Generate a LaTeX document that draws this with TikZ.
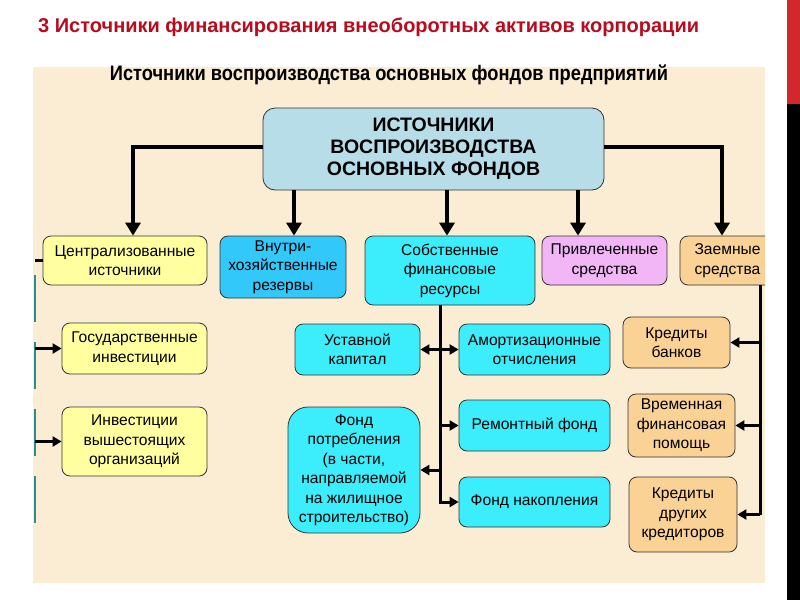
\documentclass[tikz,border=0pt]{standalone}
\usepackage{fontspec}
\setmainfont{Liberation Sans}
\newfontfamily\narrowfont[FakeStretch=0.87]{Liberation Sans}
\usetikzlibrary{arrows.meta}
\definecolor{titlered}{RGB}{185,10,30}
\definecolor{barred}{RGB}{210,40,45}
\definecolor{panelbg}{RGB}{250,237,212}
\definecolor{mainfill}{RGB}{183,222,232}
\definecolor{cyanfill}{RGB}{60,238,252}
\definecolor{bluefill}{RGB}{51,200,250}
\definecolor{yellowfill}{RGB}{255,255,160}
\definecolor{violetfill}{RGB}{242,182,246}
\definecolor{orangefill}{RGB}{250,210,150}
\definecolor{tealline}{RGB}{51,140,140}
\tikzset{
  box/.style={draw=black!80, line width=0.8pt, rounded corners=8pt, align=center,
    inner sep=0pt, font=\fontsize{15.6}{19.5}\selectfont},
  bigarrow/.style={line width=4pt, -{Triangle[length=13pt,width=15pt]}},
  bigline/.style={line width=4pt},
  midarrow/.style={line width=3pt, -{Triangle[length=9pt,width=10pt]}},
  dblarrow/.style={line width=3pt, {Triangle[length=9pt,width=10pt]}-{Triangle[length=9pt,width=10pt]}},
  midline/.style={line width=3pt},
}
\begin{document}
\begin{tikzpicture}[x=1pt,y=-1pt]
\useasboundingbox (0,0) rectangle (800,600);
\fill[white] (0,0) rectangle (800,600);
\fill[barred] (787,0) rectangle (800,104);
\fill[black] (787,104) rectangle (800,600);
\fill[panelbg] (33,67) rectangle (765,583);
\node[anchor=west, text=titlered, inner sep=0pt] (title) at (38,27)
  {\bfseries\fontsize{20}{24}\selectfont 3 Источники финансирования внеоборотных активов корпорации};
\node[inner sep=0pt] (subtitle) at (389,75)
  {\narrowfont\bfseries\fontsize{21}{25}\selectfont Источники воспроизводства основных фондов предприятий};
% main
\node[box, fill=mainfill, rounded corners=12pt, minimum width=341pt, minimum height=82pt,
  font=\bfseries\fontsize{19.5}{22}\selectfont] (main) at (433.5,149)
  {ИСТОЧНИКИ\\ВОСПРОИЗВОДСТВА\\ОСНОВНЫХ ФОНДОВ};
% row 2
\node[box, fill=yellowfill, minimum width=164pt, minimum height=49pt] (cent) at (125,260.5) {Централизованные\\источники};
\node[box, fill=bluefill, minimum width=126pt, minimum height=62pt] (vnut) at (283,267) {Внутри-\\хозяйственные\\резервы};
\node[box, fill=cyanfill, minimum width=170pt, minimum height=69pt] (sobst) at (450,270.5) {Собственные\\финансовые\\ресурсы};
\node[box, fill=violetfill, minimum width=125pt, minimum height=49pt] (privl) at (604.5,260.5) {Привлеченные\\средства};
\begin{scope}
\clip (0,0) rectangle (765,600);
\node[box, fill=orangefill, minimum width=95pt, minimum height=49pt] (zaem) at (727.5,260.5) {Заемные\\средства};
\end{scope}
% left column
\node[box, fill=yellowfill, minimum width=145pt, minimum height=51pt] (gos) at (134.5,348.5) {Государственные\\инвестиции};
\node[box, fill=yellowfill, minimum width=145pt, minimum height=69pt] (inv) at (134.5,441.5) {Инвестиции\\вышестоящих\\организаций};
% middle
\node[box, fill=cyanfill, minimum width=125pt, minimum height=51pt] (ustav) at (357.5,349.5) {Уставной\\капитал};
\node[box, fill=cyanfill, rounded corners=20pt, minimum width=132pt, minimum height=126pt] (fondp) at (354,470)
  {Фонд\\потребления\\(в части,\\направляемой\\на жилищное\\строительство)};
\node[box, fill=cyanfill, minimum width=151pt, minimum height=51pt] (amort) at (534.5,349.5) {Амортизационные\\отчисления};
\node[box, fill=cyanfill, minimum width=151pt, minimum height=51pt] (remont) at (534.5,425.5) {Ремонтный фонд};
\node[box, fill=cyanfill, minimum width=151pt, minimum height=50pt] (nakop) at (534.5,502) {Фонд накопления};
% right
\node[box, fill=orangefill, minimum width=107pt, minimum height=51pt] (kredb) at (676.5,342.5) {Кредиты\\банков};
\node[box, fill=orangefill, minimum width=107pt, minimum height=63pt] (vrem) at (681.5,425.5) {Временная\\финансовая\\помощь};
\node[box, fill=orangefill, minimum width=108pt, minimum height=75pt] (kredd) at (683,514.5) {Кредиты\\других\\кредиторов};
% top connectors
\coordinate (a1) at (133,0);
\coordinate (a2) at (294,0);
\coordinate (a3) at (447,0);
\coordinate (a4) at (578,0);
\coordinate (a5) at (722,0);
\coordinate (hl) at (0,147);
\draw[bigarrow] (main.west |- hl) -| (cent.north -| a1);
\draw[bigarrow] (main.south -| a2) -- (vnut.north -| a2);
\draw[bigarrow] (main.south -| a3) -- (sobst.north -| a3);
\draw[bigarrow] (main.south -| a4) -- (privl.north -| a4);
\draw[bigarrow] (main.east |- hl) -| (zaem.north -| a5);
% sobst connectors
\coordinate (s1) at (440,0);
\draw[midarrow] (sobst.south -| s1) |- (nakop.west);
\draw[dblarrow] (ustav.east) -- (amort.west);
\draw[midarrow] (s1 |- remont.west) -- (remont.west);
\draw[midarrow] (s1 |- fondp.east) -- (fondp.east);
% zaem connectors
\coordinate (z1) at (760,0);
\draw[midline] (zaem.south -| z1) -- (z1 |- kredd.east);
\draw[midarrow] (z1 |- kredb.east) -- (kredb.east);
\draw[midarrow] (z1 |- vrem.east) -- (vrem.east);
\draw[midarrow] (z1 |- kredd.east) -- (kredd.east);
% left connectors
\coordinate (L1) at (35,275);
\coordinate (L2) at (35,540);
\draw[tealline, line width=2.5pt, dash pattern=on 47pt off 20pt] (L1) -- (L2);
\draw[midline] (cent.west) -- (cent.west -| L1);
\draw[midarrow] (gos.west -| L1) -- (gos.west);
\draw[midarrow] (inv.west -| L1) -- (inv.west);
\end{tikzpicture}
\end{document}
